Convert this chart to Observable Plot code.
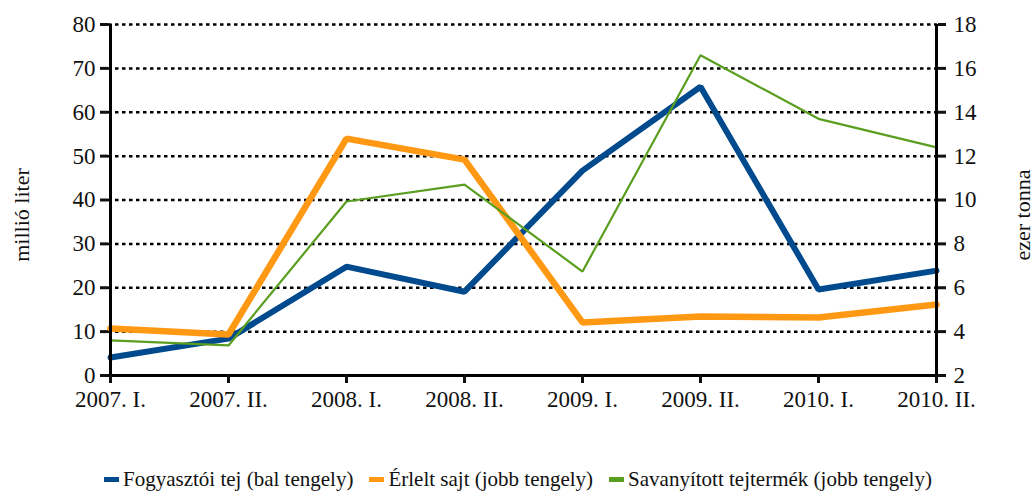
<!DOCTYPE html>
<html><head><meta charset="utf-8">
<script src="https://cdn.jsdelivr.net/npm/d3@7"></script>
<script src="https://cdn.jsdelivr.net/npm/@observablehq/plot@0.6"></script>
<style>
body{margin:0;background:#fff;font-family:"Liberation Serif","DejaVu Serif",serif;}
#wrap{position:relative;width:1036px;height:493px;overflow:hidden;}
#legend{position:absolute;left:0;top:467px;width:1036px;display:flex;justify-content:center;align-items:center;gap:16px;font-size:21px;color:#111;white-space:nowrap;}
#legend .it{display:flex;align-items:center;gap:4px;}
#legend .sw{display:inline-block;width:15px;height:5px;}
</style></head><body>
<div id="wrap"><div id="chart"></div><div id="legend"></div></div>
<script>
const periods = ["2007. I.","2007. II.","2008. I.","2008. II.","2009. I.","2009. II.","2010. I.","2010. II."];
const tej = [4.1, 8.4, 24.8, 19.1, 46.7, 65.8, 19.6, 23.9];          // millió liter (bal tengely)
const sajt = [4.14, 3.87, 12.8, 11.84, 4.42, 4.69, 4.64, 5.24];      // ezer tonna (jobb tengely)
const savanyitott = [3.6, 3.37, 9.93, 10.7, 6.74, 16.6, 13.7, 12.4]; // ezer tonna (jobb tengely)
const leftTicks = [0,10,20,30,40,50,60,70,80];
const rightTicks = [2,4,6,8,10,12,14,16,18];
const seriesNames = ["Fogyasztói tej (bal tengely)","Érlelt sajt (jobb tengely)","Savanyított tejtermék (jobb tengely)"];
const colors = ["#004a8d","#ff9914","#5a9e1f"];

// right axis (2..18) mapped onto the left scale (0..80)
const rMin = rightTicks[0], rMax = rightTicks[rightTicks.length-1];
const lMin = leftTicks[0], lMax = leftTicks[leftTicks.length-1];
const toLeft = v => lMin + (v - rMin) * (lMax - lMin) / (rMax - rMin);
const toRight = v => rMin + (v - lMin) * (rMax - rMin) / (lMax - lMin);

const rows = s => periods.map((p,i)=>({p, v: s[i]}));
const dTej = rows(tej);
const dSajt = rows(sajt).map(d=>({p:d.p, v: toLeft(d.v)}));
const dSav = rows(savanyitott).map(d=>({p:d.p, v: toLeft(d.v)}));

const chart = Plot.plot({
  width: 1036, height: 455,
  marginTop: 24, marginBottom: 80, marginLeft: 108, marginRight: 99,
  style: {fontFamily: '"Liberation Serif", serif', fontSize: "23px", color: "#111", background: "#fff"},
  x: {type: "point", domain: periods, padding: 0},
  y: {domain: [lMin, lMax]},
  marks: [
    Plot.ruleY(leftTicks.filter(d=>d>lMin), {stroke: "#000", strokeWidth: 2.5, strokeDasharray: "3.5,3.5"}),
    Plot.lineY(dTej, {x: "p", y: "v", stroke: colors[0], strokeWidth: 6, strokeLinejoin: "miter"}),
    Plot.lineY(dSajt, {x: "p", y: "v", stroke: colors[1], strokeWidth: 6.5, strokeLinejoin: "miter"}),
    Plot.lineY(dSav, {x: "p", y: "v", stroke: colors[2], strokeWidth: 2.2, strokeLinejoin: "miter"}),
    Plot.ruleY([lMin], {stroke: "#000", strokeWidth: 3}),
    Plot.ruleX([periods[0], periods[periods.length-1]], {stroke: "#000", strokeWidth: 3}),
    Plot.axisY({anchor: "left", ticks: leftTicks, tickSize: 8, tickPadding: 5, strokeWidth: 3, label: null, fontSize: 23}),
    Plot.axisY({anchor: "right", ticks: leftTicks, tickFormat: d => String(toRight(d)), tickSize: 8, tickPadding: 8, strokeWidth: 3, label: null, fontSize: 23}),
    Plot.axisX({anchor: "bottom", tickSize: 8, tickPadding: 7, strokeWidth: 3, label: null, fontSize: 23}),
    Plot.text(["millió liter"], {frameAnchor: "left", textAnchor: "middle", dx: -87, dy: 15, rotate: -90, text: d => d, fontSize: 22}),
    Plot.text(["ezer tonna"], {frameAnchor: "right", textAnchor: "middle", dx: 85, dy: 15, rotate: -90, text: d => d, fontSize: 22})
  ]
});
document.getElementById("chart").appendChild(chart);

const lg = document.getElementById("legend");
seriesNames.forEach((n,i)=>{
  const it = document.createElement("span"); it.className = "it";
  const sw = document.createElement("span"); sw.className = "sw"; sw.style.background = colors[i];
  const t = document.createElement("span"); t.textContent = n;
  it.appendChild(sw); it.appendChild(t); lg.appendChild(it);
});
</script>
</body></html>
